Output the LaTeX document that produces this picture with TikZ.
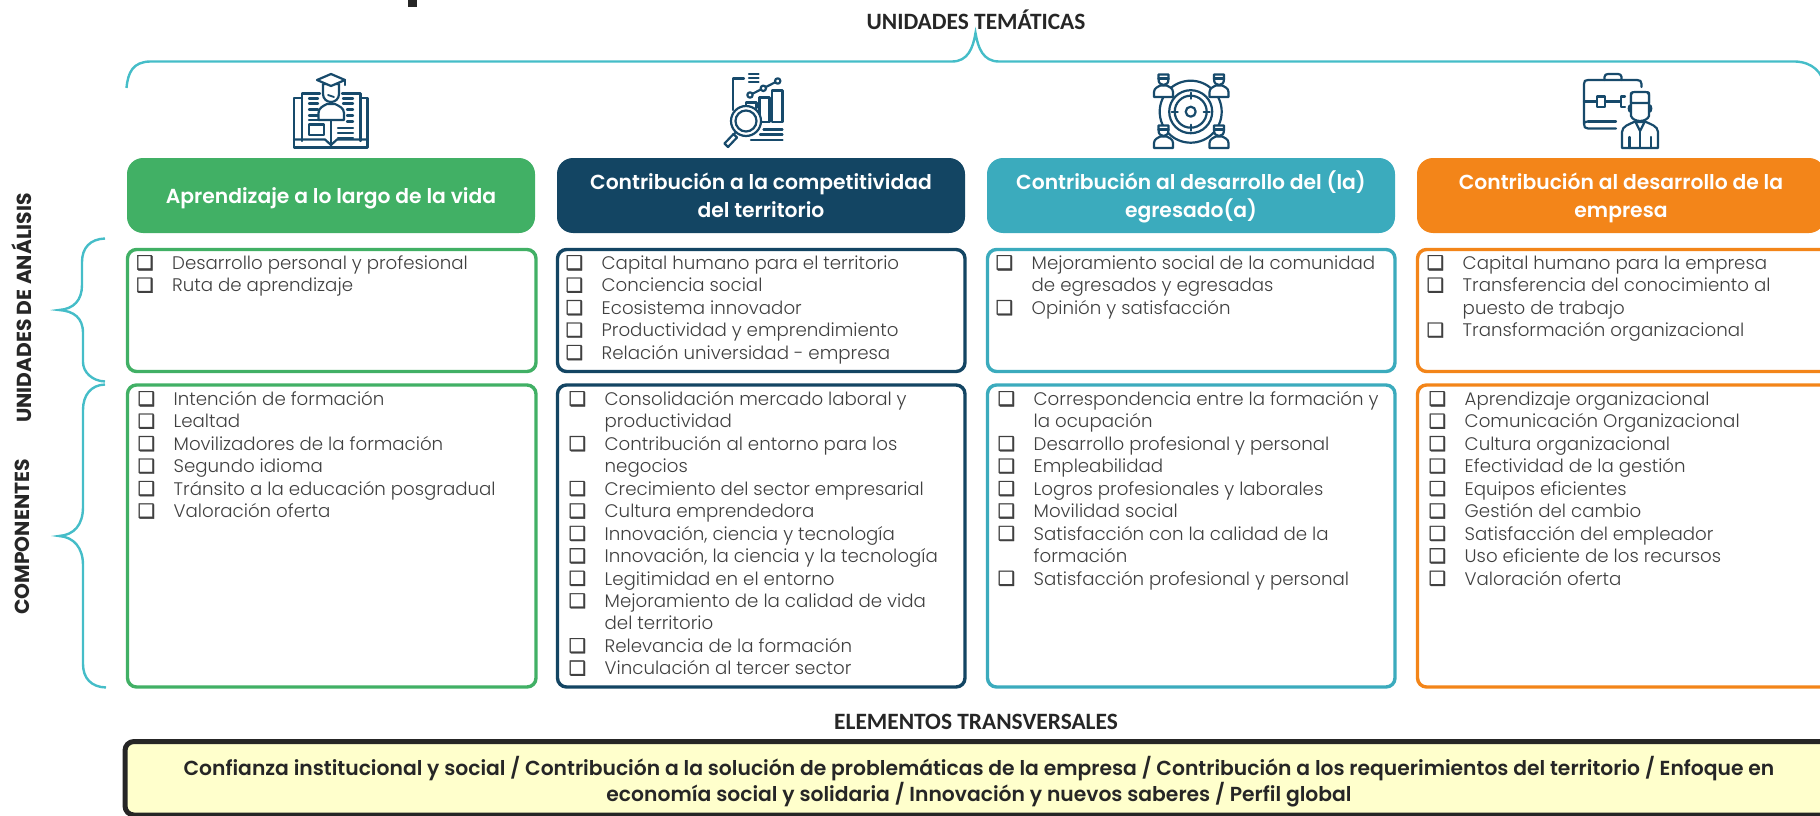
\documentclass[tikz,border=0pt]{standalone}
\usepackage{fontspec}
\usetikzlibrary{calc}
\setmainfont{Poppins}
\newfontfamily\bodyf{Poppins Light}
\newfontfamily\boldf{Poppins SemiBold}
\newfontfamily\heavyf{Poppins Bold}
\newfontfamily\capsf{Carlito}
\newfontfamily\ckf[FakeBold=1.5]{DejaVu Sans}
\definecolor{cgreen}{HTML}{41B065}
\definecolor{cnavy}{HTML}{134563}
\definecolor{cteal}{HTML}{3BABBD}
\definecolor{corange}{HTML}{F38519}
\definecolor{cbrace}{HTML}{45BDC8}
\definecolor{ciconc}{HTML}{174A6B}
\definecolor{ctext}{HTML}{404040}
\definecolor{cdark}{HTML}{262626}
\definecolor{cyell}{HTML}{FFFFCC}
\newcommand\ckm{\makebox[34.5pt][l]{\hspace*{-1.5pt}\ckf\fontsize{19.5}{15}\selectfont ❑}}
\newcommand\cont{\hspace*{34.5pt}}
\newcommand\hs{\rule[-5.4pt]{0pt}{27pt}}
\tikzset{
  headbox/.style={rounded corners=16pt,minimum height=75pt,inner sep=0pt,align=center,text=white,
    font=\boldf\fontsize{20.3}{25.7}\selectfont},
  listbox/.style={rounded corners=9pt,line width=3.4pt,fill=white},
  listtext/.style={anchor=north west,inner sep=0pt,align=left,text=ctext,
    font=\bodyf\fontsize{18.2}{22.45}\selectfont},
  bracepath/.style={draw=cbrace,line width=2.4pt},
  icon/.style={draw=ciconc,line width=2.2pt,line join=round,line cap=round},
  captitle/.style={inner sep=0pt,text=cdark,font=\capsf\bfseries\fontsize{23.4}{24}\selectfont},
  sidetitle/.style={inner sep=0pt,text=cdark,rotate=90,font=\heavyf\fontsize{20.3}{22}\selectfont}
}
\newcommand\tgperson[2]{%
  \begin{scope}[shift={(#1,#2)}]
    \path[icon,fill=white] (-9.5,23) -- (-9.5,18) .. controls (-9.5,14) and (-5,12.5) .. (-3,11.5) -- (3,11.5) .. controls (5,12.5) and (9.5,14) .. (9.5,18) -- (9.5,23) -- cycle;
    \path[icon,fill=white] (-5,0.5) -- (5,0.5) -- (5,5) .. controls (5,9) and (3,11) .. (0,11) .. controls (-3,11) and (-5,9) .. (-5,5) -- cycle;
    \path[icon] (-5,4.5) -- (5,4.5);
  \end{scope}}
\begin{document}
\begin{tikzpicture}[x=1pt,y=-1pt]
\useasboundingbox (0,0) rectangle (1820,816);
\clip (0,0) rectangle (1820,816);
% cut-off stroke of the title
\fill[cdark] (408,0) rectangle (417,7);

\node[captitle] (ut) at (976,20) {UNIDADES TEMÁTICAS};
\path[bracepath] (126.5,88) .. controls (128,72) and (133,62) .. (150,61.5) -- (952,61.5) .. controls (968,61.5) and (973,48) .. (975.5,33) .. controls (978,48) and (983,61.5) .. (999,61.5) -- (1795,61.5) .. controls (1812,62) and (1823,72) .. (1825,88);
\path[bracepath] (105,238.5) .. controls (90,239) and (82,248) .. (82,262) -- (82,285) .. controls (82,300) and (74,309) .. (59,310) .. controls (74,311) and (83,318) .. (83,333) -- (83,362) .. controls (83,372) and (92,381) .. (105,381.5);
\path[bracepath] (105,384.5) .. controls (91,385) and (83,395) .. (83,410) -- (83,507) .. controls (83,525) and (74,535) .. (59,536) .. controls (74,537) and (83,548) .. (83,565) -- (83,664) .. controls (83,678) and (91,687) .. (106,687.5);
\node[sidetitle] (ua) at (22,308) {UNIDADES DE ANÁLISIS};
\node[sidetitle] (co) at (22,537) {COMPONENTES};

% headers
\node[headbox,fill=cgreen,minimum width=408pt] (h1) at (331,195.5) {\hs Aprendizaje a lo largo de la vida};
\node[headbox,fill=cnavy,minimum width=408pt] (h2) at (761,195.5) {\hs Contribución a la competitividad\\\hs del territorio};
\node[headbox,fill=cteal,minimum width=408pt] (h3) at (1191,195.5) {\hs Contribución al desarrollo del (la)\\\hs egresado(a)};
\node[headbox,fill=corange,minimum width=408pt] (h4) at (1621,195.5) {\hs Contribución al desarrollo de la\\\hs empresa};

% list frames
\draw[listbox,draw=cgreen] (127.5,249.5) rectangle (536,371.5);
\draw[listbox,draw=cnavy] (557.5,249.5) rectangle (965,371.5);
\draw[listbox,draw=cteal] (987.5,249.5) rectangle (1395,371.5);
\draw[listbox,draw=corange] (1417.5,249.5) rectangle (1830,371.5);
\draw[listbox,draw=cgreen] (127.5,385) rectangle (536,687);
\draw[listbox,draw=cnavy] (557.5,385) rectangle (965,687);
\draw[listbox,draw=cteal] (987.5,385) rectangle (1395,687);
\draw[listbox,draw=corange] (1417.5,385) rectangle (1830,687);

% lists
\node[listtext] (l1) at (137.5,255) {\ckm Desarrollo personal y profesional\\\ckm Ruta de aprendizaje};
\node[listtext] (l2) at (567,255) {\ckm Capital humano para el territorio\\\ckm Conciencia social\\\ckm Ecosistema innovador\\\ckm Productividad y emprendimiento\\\ckm Relación universidad - empresa};
\node[listtext] (l3) at (997,255) {\ckm Mejoramiento social de la comunidad\\\cont de egresados y egresadas\\\ckm Opinión y satisfacción};
\node[listtext] (l4) at (1428,255) {\ckm Capital humano para la empresa\\\ckm Transferencia del conocimiento al\\\cont puesto de trabajo\\\ckm Transformación organizacional};
\node[listtext] (m1) at (139,391) {\ckm Intención de formación\\\ckm Lealtad\\\ckm Movilizadores de la formación\\\ckm Segundo idioma\\\ckm Tránsito a la educación posgradual\\\ckm Valoración oferta};
\node[listtext] (m2) at (570,391) {\ckm Consolidación mercado laboral y\\\cont productividad\\\ckm Contribución al entorno para los\\\cont negocios\\\ckm Crecimiento del sector empresarial\\\ckm Cultura emprendedora\\\ckm Innovación, ciencia y tecnología\\\ckm Innovación, la ciencia y la tecnología\\\ckm Legitimidad en el entorno\\\ckm Mejoramiento de la calidad de vida\\\cont del territorio\\\ckm Relevancia de la formación\\\ckm Vinculación al tercer sector};
\node[listtext] (m3) at (999,391) {\ckm Correspondencia entre la formación y\\\cont la ocupación\\\ckm Desarrollo profesional y personal\\\ckm Empleabilidad\\\ckm Logros profesionales y laborales\\\ckm Movilidad social\\\ckm Satisfacción con la calidad de la\\\cont formación\\\ckm Satisfacción profesional y personal};
\node[listtext] (m4) at (1430,391) {\ckm Aprendizaje organizacional\\\ckm Comunicación Organizacional\\\ckm Cultura organizacional\\\ckm Efectividad de la gestión\\\ckm Equipos eficientes\\\ckm Gestión del cambio\\\ckm Satisfacción del empleador\\\ckm Uso eficiente de los recursos\\\ckm Valoración oferta};

% transversal
\node[captitle] (et) at (976,722) {ELEMENTOS TRANSVERSALES};
\draw[cdark,line width=5pt,fill=cyell,rounded corners=9pt] (125,741.5) rectangle (1830,815);
\node[inner sep=0pt,align=center,text=cdark,font=\boldf\fontsize{20.3}{26}\selectfont] (tb) at (979,781.5) {Confianza institucional y social / Contribución a la solución de problemáticas de la empresa / Contribución a los requerimientos del territorio / Enfoque en\\economía social y solidaria / Innovación y nuevos saberes / Perfil global};

% icon 1: book and graduate
\path[icon] (302,98) -- (294,98) -- (294,147.5) -- (367.5,147.5) -- (367.5,98) -- (360.5,98);
\path[icon] (302,141) -- (302,93.5) -- (320,93.5);
\path[icon] (342,93.5) -- (360.5,93.5) -- (360.5,141);
\path[icon] (294,139.5) -- (325,139.5) -- (331,145) -- (337,139.5) -- (367.5,139.5);
\path[icon] (331,120) -- (331,145);
\path[icon] (309,124.5) rectangle (324,135);
\foreach \yy in {98.5,103.5,109.5,115.5,120} \path[icon,line width=2.4pt] (309,\yy) -- (318,\yy);
\foreach \yy in {98.5,103.5} \path[icon,line width=2.4pt] (343,\yy) -- (353,\yy);
\foreach \yy in {109.5,115.5,121.5} \path[icon,line width=2.4pt] (347,\yy) -- (353,\yy);
\foreach \yy in {128,133,138} \path[icon,line width=2.4pt] (338,\yy) -- (353,\yy);
\path[icon,fill=white] (318.5,120) -- (318.5,113) .. controls (318.5,108) and (323,106) .. (327,104) -- (335,104) .. controls (339,106) and (344,108) .. (344,113) -- (344,120) -- cycle;
\path[icon,fill=white] (323,84) -- (339,84) -- (339,94) .. controls (339,99) and (335,102) .. (331,102) .. controls (327,102) and (323,99) .. (323,94) -- cycle;
\path[icon,fill=white] (331,74) -- (345,80) -- (331,86) -- (317,80) -- cycle;
\path[icon] (345,80) -- (345,85);
\path[icon,line width=1.8pt] (328,95) -- (334,97);

% icon 2: chart and magnifier
\path[icon] (744,78.5) -- (733,78.5) -- (733,110);
\foreach \yy in {74,78,82} \path[icon] (749,\yy) -- (758.5,\yy);
\path[icon] (772,90.5) rectangle (782.5,122);
\path[icon] (759.5,97.5) rectangle (769.5,122);
\path[icon] (746,108) -- (746,102.5) -- (756.5,102.5) -- (756.5,108);
\path[icon] (750,95) -- (763.3,88.3) -- (777.7,81);
\foreach \xx/\yy in {750/95,763.3/88.3,777.7/81} \path[icon,fill=white] (\xx,\yy) circle (2.7);
\path[icon,fill=white] (746,121) circle (15);
\path[icon] (746,121) circle (10.5);
\path[icon,line width=2pt] (736,132) -- (733,135);
\path[icon,fill=white] (733.5,134) -- (737,137.5) -- (728,147) -- (724.5,143.5) -- cycle;
\path[icon] (763.5,129.5) -- (782.5,129.5);
\path[icon] (760,134.5) -- (782.5,134.5);
\path[icon] (751,140) -- (782.5,140);

% icon 3: target and people
\path[icon] (1190.7,111.7) circle (5);
\path[icon] (1190.7,111.7) circle (16);
\path[icon] (1190.7,111.7) circle (21.5);
\path[icon] (1190.7,111.7) circle (31);
\foreach \ang in {0,90,180,270} \path[icon] ($(1190.7,111.7)+(\ang:13)$) -- ($(1190.7,111.7)+(\ang:19)$);
\tgperson{1163.5}{74}
\tgperson{1219}{74}
\tgperson{1163.5}{125}
\tgperson{1219}{125}

% icon 4: briefcase and person
\path[icon] (1641.5,87) -- (1641.5,84) .. controls (1641.5,81) and (1640,80) .. (1637,80) -- (1588,80) .. controls (1585,80) and (1584,81) .. (1584,84) -- (1584,124) .. controls (1584,127) and (1585,128.5) .. (1588,128.5) -- (1616,128.5);
\path[icon] (1588,121.5) .. controls (1585,121.5) and (1584,122) .. (1584,124);
\path[icon] (1588,121.5) -- (1616,121.5);
\path[icon] (1604.5,80) -- (1604.5,77) .. controls (1604.5,75) and (1606,74) .. (1608,74) -- (1618,74) .. controls (1620,74) and (1621.5,75) .. (1621.5,77) -- (1621.5,80);
\path[icon] (1584,101.5) -- (1597,101.5);
\path[icon] (1597,96.5) rectangle (1605,107);
\path[icon] (1605,101.5) -- (1620,101.5);
\path[icon] (1625,96.5) -- (1621,96.5) -- (1621,107) -- (1625,107);
\path[icon] (1622,148) -- (1622,132) .. controls (1622,126) and (1630,124) .. (1634,122) -- (1646,122) .. controls (1650,124) and (1658,126) .. (1658,132) -- (1658,148) -- cycle;
\path[icon] (1629.5,148) -- (1629.5,137);
\path[icon] (1651,148) -- (1651,137);
\path[icon] (1636,123) -- (1640,131) -- (1644,123);
\path[icon] (1640,131) -- (1640,147);
\path[icon,fill=white] (1631,93) -- (1631,116) .. controls (1632,119) and (1636,121) .. (1640,121) .. controls (1644,121) and (1648,119) .. (1649,116) -- (1649,93) .. controls (1649,91) and (1647,93) .. (1645,93) -- cycle;
\path[icon,fill=white] (1631,103) -- (1631,95) .. controls (1631,92) and (1633,92) .. (1635,92) -- (1645,92) .. controls (1647,92) and (1649,92) .. (1649,95) -- (1649,103) -- cycle;
\path[icon] (1631,105) .. controls (1628,105) and (1628,112) .. (1631,112);
\path[icon] (1649,105) .. controls (1652,105) and (1652,112) .. (1649,112);
\end{tikzpicture}
\end{document}
